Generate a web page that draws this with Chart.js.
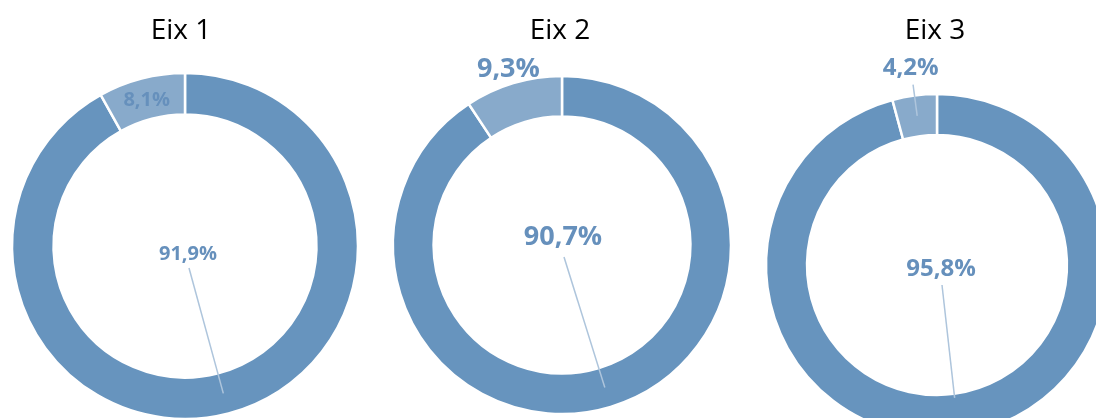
<!DOCTYPE html>
<html>
<head>
<meta charset="utf-8">
<script src="https://cdn.jsdelivr.net/npm/chart.js@4/dist/chart.umd.min.js"></script>
<style>
  html, body { margin: 0; padding: 0; background: #ffffff; }
  body { width: 1096px; height: 418px; overflow: hidden; position: relative; }
  canvas { position: absolute; }
</style>
</head>
<body>
<canvas id="c0" width="440" height="500"></canvas>
<canvas id="c1" width="440" height="500"></canvas>
<canvas id="c2" width="440" height="500"></canvas>
<script>
// ---- data ----
const categories = ['Eix 1', 'Eix 2', 'Eix 3'];
const sliceNames = ['Majoritari', 'Minoritari'];
const mainValues = [91.9, 90.7, 95.8];
const smallValues = [8.1, 9.3, 4.2];

// ---- styles / layout (not data) ----
const MAIN_COLOR = '#6794BE';
const SMALL_COLOR = '#88AACB';
const LABEL_COLOR = '#6690BC';
const LEADER_COLOR = '#AEC5DC';
const FONT = '"Open Sans", "Noto Sans", sans-serif';
const CW = 440, CH = 500;

const layouts = [
  { cx: 185, cy: 246, radius: 173, titleDx: -4,
    main: { dx: 3, dy: 7, size: 20, gap: 15, endFrac: 0.5 },
    small: { mode: 'inside', size: 20 } },
  { cx: 562, cy: 245, radius: 169, titleDx: -2,
    main: { dx: 1, dy: -10, size: 27, gap: 22, endFrac: 0.5 },
    small: { mode: 'outside', dist: 17, size: 27 } },
  { cx: 937, cy: 265, radius: 171, titleDx: -2,
    main: { dx: 4, dy: 2, size: 24, gap: 18, endFrac: 0.1 },
    small: { mode: 'outside', dist: 29, size: 24, leaderFrom: 11 } }
];

function fmt(v) { return v.toFixed(1).replace('.', ',') + '%'; }

const labelPlugin = {
  id: 'donutLabels',
  afterDatasetsDraw(chart, args, opts) {
    const L = opts.layout;
    const ctx = chart.ctx;
    const meta = chart.getDatasetMeta(0);
    const values = chart.data.datasets[0].data;
    ctx.save();
    // title
    ctx.fillStyle = '#000000';
    ctx.font = '28px ' + FONT;
    ctx.textAlign = 'center';
    ctx.textBaseline = 'alphabetic';
    ctx.fillText(opts.title, CW / 2 + L.titleDx, 39 - (L.cy - CH / 2));

    meta.data.forEach((arc, i) => {
      const p = arc.getProps(['x', 'y', 'startAngle', 'endAngle', 'innerRadius', 'outerRadius'], true);
      const mid = (p.startAngle + p.endAngle) / 2;
      const cos = Math.cos(mid), sin = Math.sin(mid);
      const ring = p.outerRadius - p.innerRadius;
      const text = fmt(values[i]);
      let lx, ly, size, lineStart = null, lineEnd = null;
      if (i === 0) {
        const s = L.main;
        size = s.size;
        lx = p.x + s.dx; ly = p.y + s.dy;
        const er = p.innerRadius + ring * s.endFrac;
        lineStart = [lx + 1, ly + s.gap];
        lineEnd = [p.x + cos * er, p.y + sin * er];
      } else {
        const s = L.small;
        size = s.size;
        if (s.mode === 'inside') {
          const r = (p.innerRadius + p.outerRadius) / 2;
          lx = p.x + cos * r; ly = p.y + sin * r;
        } else {
          const r = p.outerRadius + s.dist;
          lx = p.x + cos * r; ly = p.y + sin * r;
          if (s.leaderFrom) {
            const r0 = p.outerRadius + s.leaderFrom;
            const r1 = (p.innerRadius + p.outerRadius) / 2;
            lineStart = [p.x + cos * r0, p.y + sin * r0];
            lineEnd = [p.x + cos * r1, p.y + sin * r1];
          }
        }
      }
      if (lineStart) {
        ctx.strokeStyle = LEADER_COLOR;
        ctx.lineWidth = 1.5;
        ctx.beginPath();
        ctx.moveTo(lineStart[0], lineStart[1]);
        ctx.lineTo(lineEnd[0], lineEnd[1]);
        ctx.stroke();
      }
      ctx.fillStyle = LABEL_COLOR;
      ctx.font = 'bold ' + size + 'px ' + FONT;
      ctx.textAlign = 'center';
      ctx.textBaseline = 'alphabetic';
      ctx.fillText(text, lx, ly + size * 0.357);
    });
    ctx.restore();
  }
};

categories.forEach((cat, k) => {
  const L = layouts[k];
  const el = document.getElementById('c' + k);
  el.style.left = (L.cx - CW / 2) + 'px';
  el.style.top = (L.cy - CH / 2) + 'px';
  el.style.width = CW + 'px';
  el.style.height = CH + 'px';
  new Chart(el, {
    type: 'doughnut',
    data: {
      labels: sliceNames,
      datasets: [{
        data: [mainValues[k], smallValues[k]],
        backgroundColor: [MAIN_COLOR, SMALL_COLOR],
        borderColor: '#ffffff',
        borderWidth: 2.5,
        hoverOffset: 0
      }]
    },
    options: {
      responsive: false,
      animation: false,
      radius: L.radius,
      cutout: '76%',
      rotation: 0,
      layout: { padding: 0 },
      plugins: {
        legend: { display: false },
        title: { display: false },
        tooltip: { enabled: false },
        donutLabels: { layout: L, title: cat }
      },
      events: []
    },
    plugins: [labelPlugin]
  });
});
</script>
</body>
</html>
